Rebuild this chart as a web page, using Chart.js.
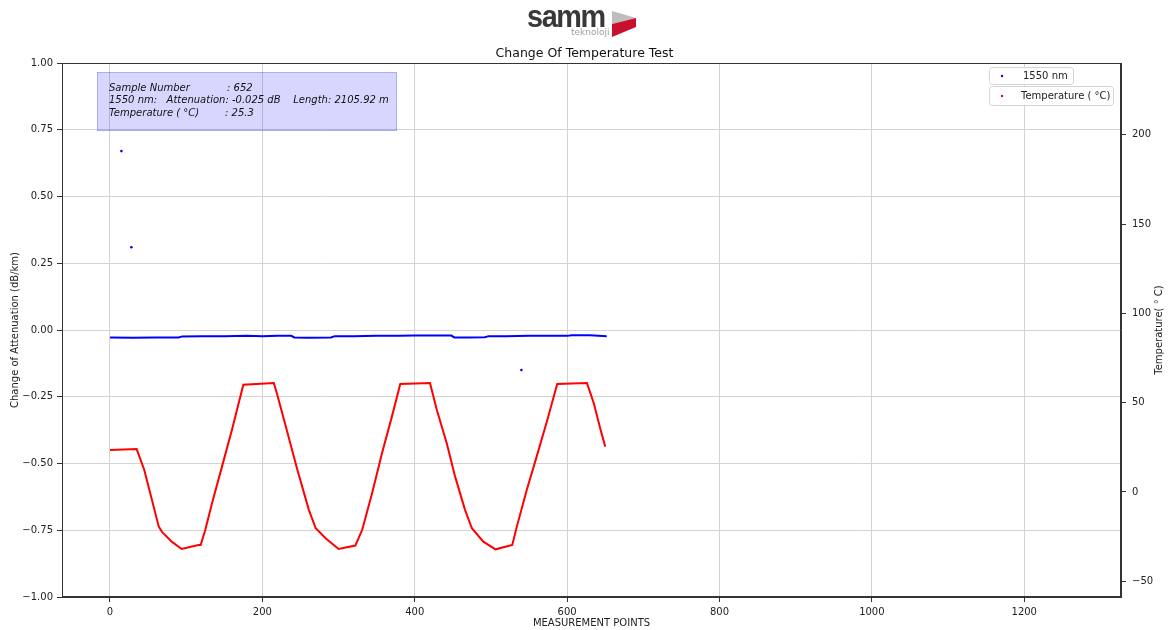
<!DOCTYPE html>
<html>
<head>
<meta charset="utf-8">
<script src="https://cdn.jsdelivr.net/npm/chart.js@4.4.1/dist/chart.umd.min.js"></script>
<style>
  body { margin: 0; background: #fff; }
  #wrap { position: relative; width: 1169px; height: 630px; }
  #logo-text { position: absolute; left: 527px; top: 0px; font: bold 32px "Liberation Sans", Arial, sans-serif; letter-spacing: -1.5px; color: #383838; line-height: 32px; transform: scaleX(0.9); transform-origin: left top; }
  #logo-sub { position: absolute; left: 571px; top: 28px; font: 9px "DejaVu Sans", sans-serif; color: #a0a0a0; line-height: 9px; }
  #logo-mark { position: absolute; left: 612px; top: 9px; }
</style>
</head>
<body>
<div id="wrap">
  <canvas id="chart" width="1169" height="630"></canvas>
  <div id="logo-text">samm</div>
  <div id="logo-sub">teknoloji</div>
  <svg id="logo-mark" width="26" height="30" viewBox="0 0 26 30">
    <polygon points="0,2 24,9 0,15" fill="#bdbdbd"/>
    <polygon points="0,15 24,9 24,18 0,28" fill="#c8102e"/>
  </svg>
</div>
<script>
// attenuation at 1550 nm (dB/km), main trace
const blueX = [0, 30, 60, 90, 95, 120, 150, 180, 200, 220, 238, 242, 260, 290, 295, 320, 350, 380, 400, 420, 448, 452, 470, 492, 497, 520, 550, 580, 600, 606, 630, 652];
const blueY = [-0.028, -0.029, -0.028, -0.028, -0.024, -0.023, -0.023, -0.022, -0.023, -0.022, -0.022, -0.028, -0.029, -0.028, -0.023, -0.023, -0.022, -0.022, -0.021, -0.021, -0.021, -0.028, -0.028, -0.027, -0.023, -0.023, -0.022, -0.022, -0.022, -0.020, -0.020, -0.023];

// stray attenuation readings
const blueOutX = [15, 28, 540];
const blueOutY = [0.67, 0.31, -0.15];

// temperature (°C)
const tempX = [0, 35, 45, 54, 64, 68, 81, 94, 116, 119, 125, 134, 147, 160, 175, 215, 219, 232, 246, 261, 270, 283, 300, 322, 331, 344, 357, 370, 381, 420, 429, 442, 453, 466, 475, 490, 506, 528, 534, 547, 560, 574, 587, 626, 635, 644, 650];
const tempY = [23.5, 24, 12.3, -2.6, -19.4, -22.2, -27.8, -31.9, -29.7, -29.7, -21.3, -6.2, 14.2, 34.7, 60, 61, 55.3, 34.7, 12.3, -10, -20.3, -25.9, -31.9, -30, -21.3, -0.7, 21.7, 42.2, 60.5, 61, 45.9, 27.3, 8.6, -10, -20.3, -27.8, -32.1, -29.7, -19.4, 1.1, 19.8, 40.3, 60.5, 61, 49.7, 34.7, 25.4];

const xTicks = [0, 200, 400, 600, 800, 1000, 1200];
const yTicks = [-1, -0.75, -0.5, -0.25, 0, 0.25, 0.5, 0.75, 1];
const y1Ticks = [-50, 0, 50, 100, 150, 200];

const toPts = (xs, ys) => xs.map((x, i) => ({ x: x, y: ys[i] }));
const minus = s => String(s).replace('-', '\u2212');

const overlays = {
  id: 'overlays',
  afterDraw(chart) {
    const ctx = chart.ctx;
    const a = chart.chartArea;
    ctx.save();

    // plot frame
    ctx.strokeStyle = '#333';
    ctx.lineWidth = 1;
    ctx.strokeRect(Math.round(a.left) + 0.5, Math.round(a.top) + 0.5, Math.round(a.right - a.left) - 1, Math.round(a.bottom - a.top) - 1);

    // info box
    const bx = a.left + 35, by = a.top + 9;
    ctx.fillStyle = 'rgba(0,0,255,0.16)';
    ctx.fillRect(bx, by, 300, 59);
    ctx.strokeStyle = 'rgba(0,0,180,0.2)';
    ctx.strokeRect(bx + 0.5, by + 0.5, 299, 58);
    ctx.fillStyle = '#111';
    ctx.font = 'italic 10px "DejaVu Sans", sans-serif';
    ctx.textBaseline = 'middle';
    ctx.textAlign = 'left';
    ctx.fillText('Sample Number', bx + 12, by + 16);
    ctx.fillText(': 652', bx + 130, by + 16);
    ctx.fillText('1550 nm:   Attenuation: -0.025 dB    Length: 2105.92 m', bx + 12, by + 28);
    ctx.fillText('Temperature ( \u00b0C)', bx + 12, by + 41);
    ctx.fillText(': 25.3', bx + 128, by + 41);

    // legends (one box per axis, like the original)
    const ds = chart.data.datasets;
    const boxes = [
      { x: a.right - 48, y: a.top + 4, w: 84, h: 17, d: ds[0], tx: 21 },
      { x: a.right - 8, y: a.top + 23, w: 124, h: 19, d: ds[2], tx: 19 }
    ];
    ctx.font = '10px "DejaVu Sans", sans-serif';
    boxes.forEach(b => {
      const l = b.x - b.w;
      ctx.beginPath();
      ctx.roundRect(l + 0.5, b.y + 0.5, b.w, b.h, 3);
      ctx.fillStyle = 'rgba(255,255,255,0.85)';
      ctx.fill();
      ctx.strokeStyle = '#d4d4d4';
      ctx.stroke();
      ctx.beginPath();
      ctx.arc(l + 13, b.y + b.h / 2 + 0.5, 1.2, 0, Math.PI * 2);
      ctx.fillStyle = b.d.borderColor;
      ctx.fill();
      ctx.fillStyle = '#222';
      ctx.fillText(b.d.label, l + 13 + b.tx, b.y + b.h / 2 + 0.5);
    });

    // right axis title, reading upward
    ctx.translate(1159, (a.top + a.bottom) / 2);
    ctx.rotate(-Math.PI / 2);
    ctx.textAlign = 'center';
    ctx.font = '10px "DejaVu Sans", sans-serif';
    ctx.fillStyle = '#222';
    ctx.fillText('Temperature( \u00b0 C)', 0, 0);
    ctx.restore();
  }
};

const tickFont = { family: '"DejaVu Sans", sans-serif', size: 10 };
const titleFont = { family: '"DejaVu Sans", sans-serif', size: 10 };

new Chart(document.getElementById('chart'), {
  type: 'scatter',
  data: {
    datasets: [
      {
        label: '1550 nm',
        data: toPts(blueX, blueY),
        showLine: true,
        borderColor: 'rgb(0,0,255)',
        backgroundColor: 'rgb(0,0,255)',
        borderWidth: 2,
        pointRadius: 0,
        yAxisID: 'y'
      },
      {
        label: '1550 nm stray',
        data: toPts(blueOutX, blueOutY),
        borderColor: 'rgb(0,0,255)',
        backgroundColor: 'rgb(0,0,255)',
        pointRadius: 1.3,
        borderWidth: 0,
        yAxisID: 'y'
      },
      {
        label: 'Temperature ( \u00b0C)',
        data: toPts(tempX, tempY),
        showLine: true,
        borderColor: 'rgb(255,0,0)',
        backgroundColor: 'rgb(255,0,0)',
        borderWidth: 2,
        pointRadius: 0,
        yAxisID: 'y1'
      }
    ]
  },
  options: {
    responsive: false,
    animation: false,
    devicePixelRatio: 1,
    layout: { padding: 0 },
    plugins: {
      legend: { display: false },
      tooltip: { enabled: false },
      title: {
        display: true,
        text: 'Change Of Temperature Test',
        color: '#111',
        font: { family: '"DejaVu Sans", sans-serif', size: 12.5, weight: 'normal' },
        padding: { top: 46, bottom: 2 }
      }
    },
    scales: {
      x: {
        type: 'linear',
        min: -63,
        max: 1327,
        afterBuildTicks: s => { s.ticks = xTicks.map(v => ({ value: v })); },
        afterFit: s => { s.height = 33; },
        ticks: { font: tickFont, color: '#222', padding: 4, maxRotation: 0, callback: v => String(v) },
        grid: { color: '#d3d3d3', tickColor: '#333', tickLength: 5 },
        border: { color: '#333' },
        title: {
          display: true,
          text: 'MEASUREMENT POINTS',
          color: '#222',
          font: titleFont,
          padding: { top: 0, bottom: 1 }
        }
      },
      y: {
        position: 'left',
        min: -1,
        max: 1,
        afterBuildTicks: s => { s.ticks = yTicks.map(v => ({ value: v })); },
        afterFit: s => { s.width = 62; },
        ticks: { font: tickFont, color: '#222', padding: 4, callback: v => minus(v.toFixed(2)) },
        grid: { color: '#d3d3d3', tickColor: '#333', tickLength: 5 },
        border: { color: '#333' },
        title: {
          display: true,
          text: 'Change of Attenuation (dB/km)',
          color: '#222',
          font: titleFont,
          padding: { top: 9, bottom: 0 }
        }
      },
      y1: {
        position: 'right',
        min: -58.8,
        max: 240.2,
        afterBuildTicks: s => { s.ticks = y1Ticks.map(v => ({ value: v })); },
        afterFit: s => { s.width = 48; },
        ticks: { font: tickFont, color: '#222', padding: 6, callback: v => minus(v) },
        grid: { drawOnChartArea: false, color: '#333', tickColor: '#333', tickLength: 5 },
        border: { color: '#333' }
      }
    }
  },
  plugins: [overlays]
});
</script>
</body>
</html>
